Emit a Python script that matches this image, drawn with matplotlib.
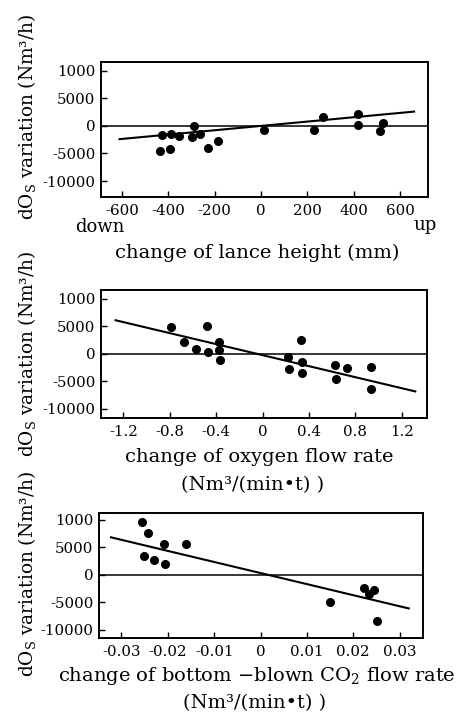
import numpy as np
import matplotlib
matplotlib.use('Agg')
import matplotlib.pyplot as plt

plt.rcParams['font.family'] = ['DejaVu Serif']
plt.rcParams['mathtext.fontset'] = 'dejavuserif'

# ── data ──────────────────────────────────────────────────
# panel 1: lance height (mm)
lance_x = [-437, -427, -388, -393, -353, -288, -297, -265, -229, -184,
           14, 229, 268, 417, 417, 512, 525]
lance_y = [-4550, -1700, -1450, -4250, -1750, 50, -2100, -1400, -4000, -2730,
           -730, -730, 1640, 2240, 240, -900, 490]
lance_fit_x = [-610, 660]
lance_fit_y = [-2400, 2600]

# panel 2: oxygen flow rate
oxy_x = [-0.787, -0.678, -0.572, -0.479, -0.471, -0.373, -0.379, -0.371,
         0.216, 0.230, 0.334, 0.336, 0.336, 0.627, 0.635, 0.728, 0.937, 0.934]
oxy_y = [4870, 2140, 900, 5050, 300, 2070, 680, -1200,
         -550, -2850, 2440, -1510, -3580, -2000, -4560, -2550, -2480, -6500]
oxy_fit_x = [-1.267, 1.316]
oxy_fit_y = [6090, -6860]

# panel 3: bottom-blown CO2 flow rate
co2_x = [-0.02565, -0.02435, -0.02515, -0.02306, -0.02084, -0.02056, -0.0161,
         0.01494, 0.02226, 0.0234, 0.02442, 0.02506]
co2_y = [9640, 7510, 3450, 2600, 5510, 1870, 5510,
         -5040, -2490, -3580, -2850, -8360]
co2_fit_x = [-0.03226, 0.03196]
co2_fit_y = [6780, -6130]

y_ticks = [10000, 5000, 0, -5000, -10000]
y_ticklabels = ["1000", "5000", "0", "-5000", "-10000"]

lance_ticks = [-600, -400, -200, 0, 200, 400, 600]
lance_ticklabels = ["-600", "-400", "-200", "0", "200", "400", "600"]
oxy_ticks = [-1.2, -0.8, -0.4, 0, 0.4, 0.8, 1.2]
oxy_ticklabels = ["-1.2", "-0.8", "-0.4", "0", "0.4", "0.8", "1.2"]
co2_ticks = [-0.03, -0.02, -0.01, 0, 0.01, 0.02, 0.03]
co2_ticklabels = ["-0.03", "-0.02", "-0.01", "0", "0.01", "0.02", "0.03"]

W, H = 470, 716
fig = plt.figure(figsize=(W / 100, H / 100), dpi=100)


def px_axes(left, top, right, bottom):
    return fig.add_axes([left / W, 1 - bottom / H, (right - left) / W, (bottom - top) / H])


def style(ax, xt, xtl, xlim, ylim):
    ax.set_xlim(*xlim)
    ax.set_ylim(*ylim)
    ax.set_xticks(xt)
    ax.set_xticklabels(xtl)
    ax.set_yticks(y_ticks)
    ax.set_yticklabels(y_ticklabels)
    ax.tick_params(direction='in', length=4, width=1, labelsize=10.8, pad=5)
    ax.tick_params(axis='y', pad=4)
    for s in ax.spines.values():
        s.set_linewidth(1.4)
    ax.axhline(0, color='k', linewidth=1.1)


panels = [
    (px_axes(101, 62, 428, 197), lance_x, lance_y, lance_fit_x, lance_fit_y,
     lance_ticks, lance_ticklabels, (-690, 720), (-12900, 11600)),
    (px_axes(101, 290, 427, 418), oxy_x, oxy_y, oxy_fit_x, oxy_fit_y,
     oxy_ticks, oxy_ticklabels, (-1.393, 1.417), (-11700, 11600)),
    (px_axes(99, 513, 423, 638), co2_x, co2_y, co2_fit_x, co2_fit_y,
     co2_ticks, co2_ticklabels, (-0.03485, 0.03504), (-11500, 11200)),
]

for ax, x, y, fx, fy, xt, xtl, xlim, ylim in panels:
    style(ax, xt, xtl, xlim, ylim)
    ax.plot(fx, fy, color='k', linewidth=1.5)
    ax.plot(x, y, 'o', color='k', markersize=5.5, zorder=3)

ylab = r"dO$_\mathrm{S}$ variation (Nm³/h)"
for yc in [117, 354, 574]:
    fig.text(27 / W, 1 - yc / H, ylab, rotation=90, ha='center', va='center', fontsize=13.3)

lab = dict(ha='center', va='center', fontsize=14)
fig.text(100 / W, 1 - 232 / H, "down", ha='center', va='baseline', fontsize=13)
fig.text(425 / W, 1 - 230 / H, "up", ha='center', va='baseline', fontsize=13)
fig.text(257 / W, 1 - 253 / H, "change of lance height (mm)", **lab)
fig.text(259 / W, 1 - 457 / H, "change of oxygen flow rate", **lab)
fig.text(253 / W, 1 - 485 / H, "(Nm³/(min•t) )", **lab)
fig.text(257 / W, 1 - 676 / H, r"change of bottom −blown CO$_2$ flow rate", **lab)
fig.text(255 / W, 1 - 703 / H, "(Nm³/(min•t) )", **lab)

plt.savefig("out.png", dpi=100)
plt.close()
